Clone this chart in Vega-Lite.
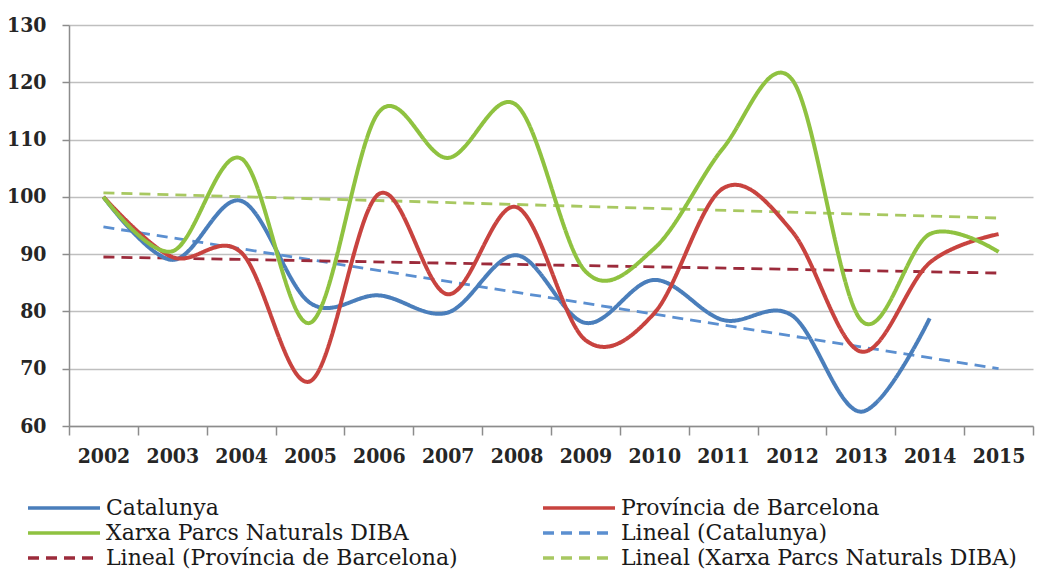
{
  "$schema": "https://vega.github.io/schema/vega-lite/v6.json",
  "width": 964,
  "height": 401,
  "autosize": "none",
  "padding": {"left": 69, "top": 25, "right": 25, "bottom": 150},
  "background": "white",
  "config": {
    "font": "DejaVu Serif",
    "view": {"stroke": null},
    "axis": {"labelFont": "DejaVu Serif Condensed, DejaVu Serif", "labelFontWeight": "bold", "labelFontSize": 21, "labelColor": "#262626"},
    "legend": {"labelFont": "DejaVu Serif"}
  },
  "data": {"values": [
    {"year": "2002", "serie": "Catalunya", "value": 100},
    {"year": "2003", "serie": "Catalunya", "value": 89},
    {"year": "2004", "serie": "Catalunya", "value": 99.3},
    {"year": "2005", "serie": "Catalunya", "value": 81.5},
    {"year": "2006", "serie": "Catalunya", "value": 82.8},
    {"year": "2007", "serie": "Catalunya", "value": 79.8},
    {"year": "2008", "serie": "Catalunya", "value": 89.8},
    {"year": "2009", "serie": "Catalunya", "value": 78},
    {"year": "2010", "serie": "Catalunya", "value": 85.5},
    {"year": "2011", "serie": "Catalunya", "value": 78.5},
    {"year": "2012", "serie": "Catalunya", "value": 79.3},
    {"year": "2013", "serie": "Catalunya", "value": 62.5},
    {"year": "2014", "serie": "Catalunya", "value": 78.8},
    {"year": "2002", "serie": "Província de Barcelona", "value": 100},
    {"year": "2003", "serie": "Província de Barcelona", "value": 89.5},
    {"year": "2004", "serie": "Província de Barcelona", "value": 90.3},
    {"year": "2005", "serie": "Província de Barcelona", "value": 67.8},
    {"year": "2006", "serie": "Província de Barcelona", "value": 100.5},
    {"year": "2007", "serie": "Província de Barcelona", "value": 83},
    {"year": "2008", "serie": "Província de Barcelona", "value": 98.2},
    {"year": "2009", "serie": "Província de Barcelona", "value": 75},
    {"year": "2010", "serie": "Província de Barcelona", "value": 79.7},
    {"year": "2011", "serie": "Província de Barcelona", "value": 101.5},
    {"year": "2012", "serie": "Província de Barcelona", "value": 94},
    {"year": "2013", "serie": "Província de Barcelona", "value": 73},
    {"year": "2014", "serie": "Província de Barcelona", "value": 88.5},
    {"year": "2015", "serie": "Província de Barcelona", "value": 93.5},
    {"year": "2002", "serie": "Xarxa Parcs Naturals DIBA", "value": 100},
    {"year": "2003", "serie": "Xarxa Parcs Naturals DIBA", "value": 90.5},
    {"year": "2004", "serie": "Xarxa Parcs Naturals DIBA", "value": 106.7},
    {"year": "2005", "serie": "Xarxa Parcs Naturals DIBA", "value": 78},
    {"year": "2006", "serie": "Xarxa Parcs Naturals DIBA", "value": 114.8},
    {"year": "2007", "serie": "Xarxa Parcs Naturals DIBA", "value": 106.8},
    {"year": "2008", "serie": "Xarxa Parcs Naturals DIBA", "value": 116},
    {"year": "2009", "serie": "Xarxa Parcs Naturals DIBA", "value": 87},
    {"year": "2010", "serie": "Xarxa Parcs Naturals DIBA", "value": 91},
    {"year": "2011", "serie": "Xarxa Parcs Naturals DIBA", "value": 108.5},
    {"year": "2012", "serie": "Xarxa Parcs Naturals DIBA", "value": 120.5},
    {"year": "2013", "serie": "Xarxa Parcs Naturals DIBA", "value": 78.5},
    {"year": "2014", "serie": "Xarxa Parcs Naturals DIBA", "value": 93.5},
    {"year": "2015", "serie": "Xarxa Parcs Naturals DIBA", "value": 90.4},
    {"year": "2002", "serie": "Lineal (Catalunya)", "value": 94.75},
    {"year": "2015", "serie": "Lineal (Catalunya)", "value": 70},
    {"year": "2002", "serie": "Lineal (Província de Barcelona)", "value": 89.5},
    {"year": "2015", "serie": "Lineal (Província de Barcelona)", "value": 86.7},
    {"year": "2002", "serie": "Lineal (Xarxa Parcs Naturals DIBA)", "value": 100.7},
    {"year": "2015", "serie": "Lineal (Xarxa Parcs Naturals DIBA)", "value": 96.3}
  ]},
  "encoding": {
    "x": {
      "field": "year", "type": "ordinal",
      "scale": {"type": "band", "paddingInner": 0, "paddingOuter": 0},
      "axis": {"title": null, "labelAngle": 0, "tickBand": "extent", "grid": false, "domainColor": "#8c8c8c", "domainWidth": 1.5, "tickColor": "#8c8c8c", "tickWidth": 1.5, "tickSize": 9, "labelPadding": 10}
    },
    "y": {
      "field": "value", "type": "quantitative",
      "scale": {"domain": [60, 130], "nice": false, "zero": false},
      "axis": {"title": null, "values": [60, 70, 80, 90, 100, 110, 120, 130], "gridColor": "#bfbfbf", "gridWidth": 1.5, "domainColor": "#8c8c8c", "domainWidth": 1.5, "tickColor": "#8c8c8c", "tickWidth": 1.5, "tickSize": 7, "labelPadding": 16}
    },
    "color": {
      "field": "serie", "type": "nominal",
      "scale": {
        "domain": ["Catalunya", "Província de Barcelona", "Xarxa Parcs Naturals DIBA", "Lineal (Catalunya)", "Lineal (Província de Barcelona)", "Lineal (Xarxa Parcs Naturals DIBA)"],
        "range": ["#4a7ebb", "#c8433f", "#8fc240", "#5b8fd0", "#9c2b3b", "#a8c861"]
      },
      "legend": {
        "orient": "none", "legendX": -17, "legendY": 471, "columns": 2, "direction": "horizontal", "columnPadding": 78, "rowPadding": 2,
        "title": null, "symbolType": "M-3.6,0H3.6", "symbolSize": 400, "symbolStrokeWidth": 3.5,
        "labelFontSize": 22, "labelFontWeight": "normal", "labelColor": "#1a1a1a",
        "labelOffset": 30, "labelLimit": 600
      }
    },
    "strokeDash": {
      "field": "serie", "type": "nominal",
      "scale": {
        "domain": ["Catalunya", "Província de Barcelona", "Xarxa Parcs Naturals DIBA", "Lineal (Catalunya)", "Lineal (Província de Barcelona)", "Lineal (Xarxa Parcs Naturals DIBA)"],
        "range": [[1, 0], [1, 0], [1, 0], [11, 7], [11, 7], [11, 7]]
      }
    }
  },
  "layer": [
    {
      "transform": [{"filter": {"field": "serie", "oneOf": ["Lineal (Catalunya)", "Lineal (Província de Barcelona)", "Lineal (Xarxa Parcs Naturals DIBA)"]}}],
      "mark": {"type": "line", "strokeWidth": 2.8}
    },
    {
      "transform": [{"filter": {"field": "serie", "oneOf": ["Catalunya", "Província de Barcelona", "Xarxa Parcs Naturals DIBA"]}}],
      "mark": {"type": "line", "strokeWidth": 4, "interpolate": "cardinal"}
    }
  ]
}
